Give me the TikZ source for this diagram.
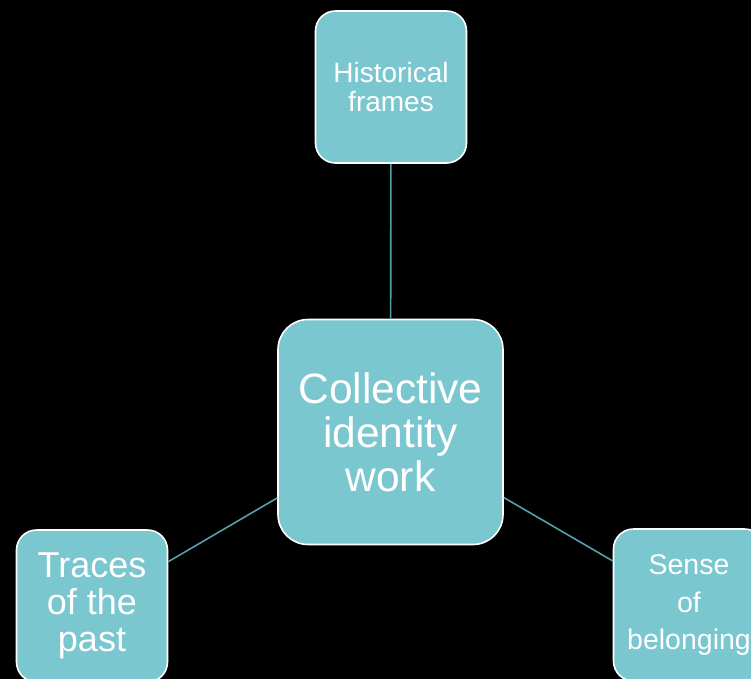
\documentclass[tikz,border=0pt]{standalone}
\usepackage{fontspec}
\setmainfont{Liberation Sans}
\definecolor{boxfill}{RGB}{122,199,208}
\definecolor{linkcol}{RGB}{84,160,170}
\tikzset{
  box/.style={draw=white, line width=1.6bp, fill=boxfill, text=white, align=center, inner sep=0pt},
  smallbox/.style={box, minimum width=151bp, minimum height=152bp, rounded corners=20bp},
  bigbox/.style={box, minimum width=225bp, minimum height=225bp, rounded corners=30bp},
  link/.style={draw=linkcol, line width=1.6bp}
}
\begin{document}
\begin{tikzpicture}[x=1bp,y=-1bp]
\useasboundingbox (0,0) rectangle (751,679);
\fill[black] (0,0) rectangle (751,679);
\clip (0,0) rectangle (751,679);
\node[smallbox, font=\fontsize{28bp}{29bp}\selectfont] (hist) at (391,87) {Historical\\frames};
\node[bigbox, font=\fontsize{42.5bp}{44bp}\selectfont] (coll) at (390.5,432) {Collective\\identity\\work};
\node[smallbox, font=\fontsize{36bp}{37bp}\selectfont] (trace) at (92,606) {Traces\\of the\\past};
\node[smallbox, font=\fontsize{28.5bp}{37bp}\selectfont] (sense) at (689,605) {Sense\\of\\belonging};
\draw[link] (coll) -- (hist);
\draw[link] (coll) -- (trace);
\draw[link] (coll) -- (sense);
\end{tikzpicture}
\end{document}
